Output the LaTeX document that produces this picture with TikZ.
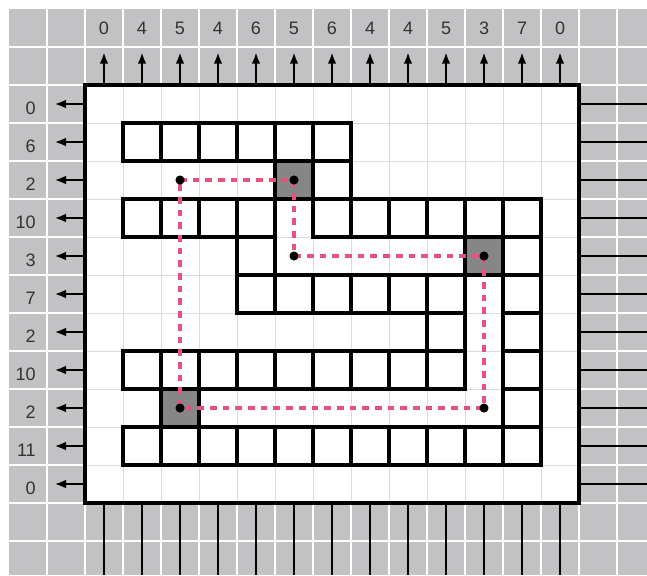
\documentclass[tikz,border=0pt]{standalone}
\usepackage{fontspec}
\setmainfont{Liberation Sans}
\usetikzlibrary{arrows.meta}
\definecolor{TrayGrey}{HTML}{C2C2C4}
\definecolor{CellLine}{HTML}{DADADA}
\definecolor{MirrorGrey}{HTML}{868686}
\definecolor{BeamPink}{HTML}{E8507E}
\definecolor{CountInk}{HTML}{333333}
\tikzset{
  every node/.style={text=CountInk},
  count/.style={font=\fontsize{13.5}{16}\selectfont, inner sep=0pt},
  wall/.style={draw=black, line width=2.3pt, fill=white},
  mirror/.style={draw=black, line width=2.3pt, fill=MirrorGrey},
  beam/.style={draw=BeamPink, line width=2.7pt, dash pattern=on 5pt off 4.5pt},
  hint/.style={-{Latex[length=3mm,width=2.3mm]}, draw=black, line width=1.6pt},
  lead/.style={draw=black, line width=1.4pt},
  frame/.style={draw=black, line width=3.6pt},
}
\begin{document}
\begin{tikzpicture}[x=1cm,y=1cm]
  \useasboundingbox (-2.237,2.237) rectangle (14.789,-12.895);
  % grey tray
  \fill[TrayGrey] (-2,2) rectangle (14.789,-12.895);
  \foreach \x in {-1,...,14}
    \draw[white, line width=1.4pt] (\x,2) -- (\x,-12.895);
  \foreach \y in {1,0,...,-12}
    \draw[white, line width=1.4pt] (-2,\y) -- (14.789,\y);
  % board
  \fill[white] (0,0) rectangle (13,-11);
  \draw[CellLine, line width=0.5pt] (0,-11) grid (13,0);
  \foreach \r/\a/\b in {1/1/6,2/6/6,3/1/4,3/6/11,4/4/4,4/11/11,5/4/9,5/11/11,
                        6/9/9,6/11/11,7/1/9,7/11/11,8/11/11,9/1/11}
    \foreach \c in {\a,...,\b}
      \draw[wall] (\c,-\r) rectangle ++(1,-1);
  \foreach \c/\r in {5/2,10/4,2/8}
    \draw[mirror] (\c,-\r) rectangle ++(1,-1);
  % beam
  \coordinate (m1) at (2.5,-2.5);
  \coordinate (m2) at (5.5,-2.5);
  \coordinate (m3) at (5.5,-4.5);
  \coordinate (m4) at (10.5,-4.5);
  \coordinate (m5) at (10.5,-8.5);
  \coordinate (m6) at (2.5,-8.5);
  \draw[beam] (m1) -- (m2) -- (m3) -- (m4) -- (m5) -- (m6) -- cycle;
  \foreach \m in {m1,m2,m3,m4,m5,m6}
    \fill[black] (\m) circle (0.12);
  \draw[frame] (0,0) rectangle (13,-11);
  % column counts
  \foreach \x/\v in {0/0,1/4,2/5,3/4,4/6,5/5,6/6,7/4,8/4,9/5,10/3,11/7,12/0}{
    \node[count] (top\x) at (\x+0.5,1.5) {\v};
    \coordinate (tb\x) at (\x+0.5,0);
    \coordinate (tt\x) at (\x+0.5,0.86);
    \draw[hint] (tb\x) -- (tt\x);
    \coordinate (bb\x) at (\x+0.5,-11);
    \coordinate (be\x) at (\x+0.5,-12.895);
    \draw[lead] (bb\x) -- (be\x);
  }
  % row counts
  \foreach \y/\v in {0/0,1/6,2/2,3/10,4/3,5/7,6/2,7/10,8/2,9/11,10/0}{
    \node[count, anchor=east] (side\y) at (-1.29,-\y-0.6) {\v};
    \coordinate (sb\y) at (0,-\y-0.5);
    \coordinate (st\y) at (-0.8,-\y-0.5);
    \draw[hint] (sb\y) -- (st\y);
    \coordinate (rb\y) at (13,-\y-0.5);
    \coordinate (re\y) at (14.789,-\y-0.5);
    \draw[lead] (rb\y) -- (re\y);
  }
\end{tikzpicture}
\end{document}
